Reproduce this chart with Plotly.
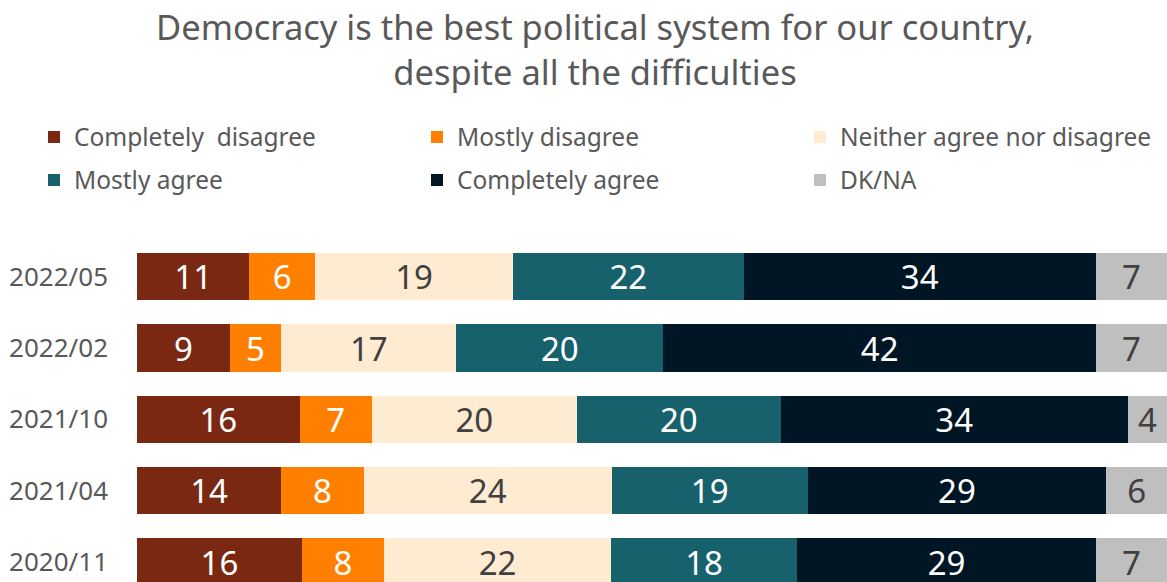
import plotly.graph_objects as go

periods = ["2022/05", "2022/02", "2021/10", "2021/04", "2020/11"]
completely_disagree = [10.9, 9.0, 15.8, 14.0, 16.0]
mostly_disagree = [6.4, 5.0, 7.0, 8.0, 8.0]
neither = [19.2, 17.0, 19.9, 24.1, 22.0]
mostly_agree = [22.4, 20.1, 19.8, 19.0, 18.1]
completely_agree = [34.2, 42.0, 33.7, 29.0, 29.0]
dk_na = [6.9, 6.9, 3.8, 5.9, 6.9]

series = [
    ("Completely  disagree", completely_disagree, "#7A2811", "white", "legend"),
    ("Mostly disagree", mostly_disagree, "#FF7F00", "white", "legend"),
    ("Neither agree nor disagree", neither, "#FFEBD2", "#404040", "legend"),
    ("Mostly agree", mostly_agree, "#17616D", "white", "legend2"),
    ("Completely agree", completely_agree, "#011624", "white", "legend2"),
    ("DK/NA", dk_na, "#BFBFBF", "#404040", "legend2"),
]

FONT = "Noto Sans"
fig = go.Figure()
for name, vals, color, tcolor, leg in series:
    fig.add_trace(go.Bar(
        y=periods, x=vals, name=name, orientation="h",
        marker=dict(color=color, line=dict(width=0)),
        text=vals, texttemplate="%{x:.0f}", textposition="inside",
        insidetextanchor="middle", constraintext="none", textangle=0,
        textfont=dict(family=FONT, size=33, color=tcolor),
        legend=leg, hoverinfo="skip",
    ))

H, W = 582, 1167
T, L = 241, 137

def py(p):
    return 1 + (T - p) / (H - T)

def px(p):
    return (p - L) / (W - L)

leg_common = dict(orientation="h", xanchor="left", yanchor="middle",
                  font=dict(family=FONT, size=24.5, color="#595959"),
                  entrywidth=338, entrywidthmode="pixels",
                  bgcolor="rgba(0,0,0,0)", itemclick=False, traceorder="normal")

fig.update_layout(
    width=W, height=H,
    margin=dict(l=L, r=0, t=T, b=0, autoexpand=False),
    barmode="stack", bargap=0.335,
    plot_bgcolor="white", paper_bgcolor="white",
    title=dict(text="Democracy is the best political system for our country,<br>despite all the difficulties",
               font=dict(family=FONT, size=34.5, color="#595959"),
               x=595 / W, xanchor="center", xref="container",
               y=1 - 40 / H, yanchor="top", yref="container"),
    xaxis=dict(range=[0, 100], visible=False, fixedrange=True),
    yaxis=dict(type="category", categoryorder="array", categoryarray=periods,
               range=[4.28, -0.5], showgrid=False, zeroline=False, ticks="",
               ticklabelstandoff=28,
               tickfont=dict(family=FONT, size=26, color="#595959")),
    legend=dict(x=px(34), y=py(137), **leg_common),
    legend2=dict(x=px(34), y=py(180), **leg_common),
    showlegend=True,
)

fig.write_html(
    "out.html",
    config={"displayModeBar": False, "staticPlot": True},
    post_script="document.body.style.margin='0';document.body.style.overflow='hidden';",
)
